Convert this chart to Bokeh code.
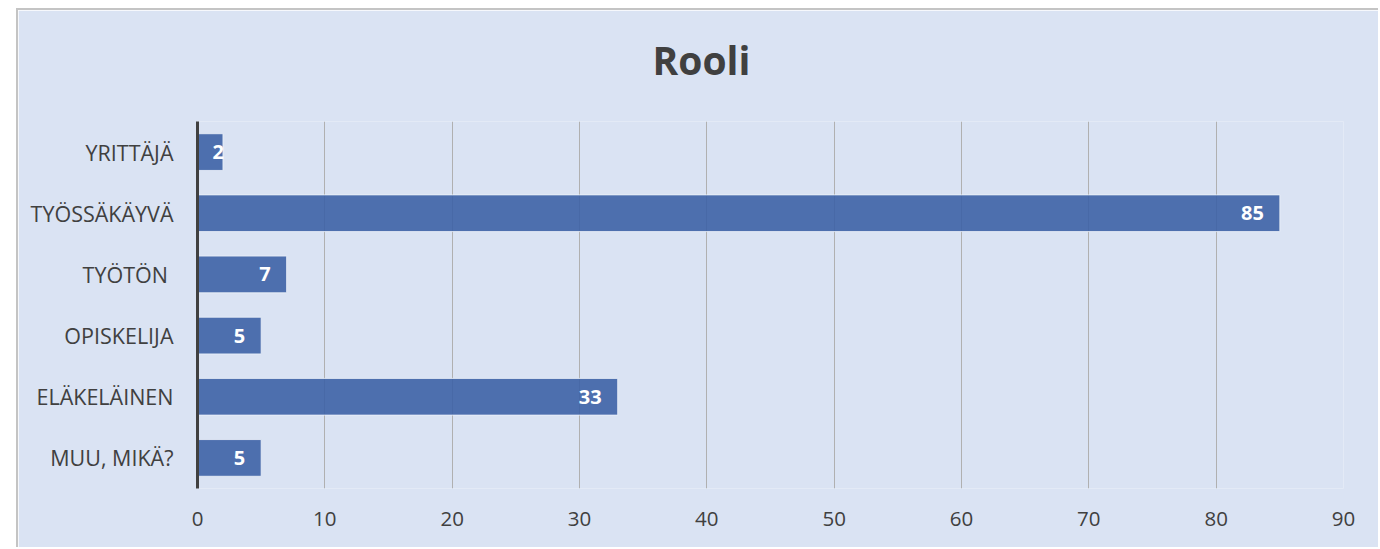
from bokeh.plotting import figure
from bokeh.models import ColumnDataSource, Range1d, FactorRange, FixedTicker, Title
from bokeh.core.properties import value
from bokeh.embed import file_html
from bokeh.resources import INLINE

# ---- data ----
categories = ["YRITTÄJÄ", "TYÖSSÄKÄYVÄ", "TYÖTÖN ", "OPISKELIJA", "ELÄKELÄINEN", "MUU, MIKÄ?"]
counts = [2, 85, 7, 5, 33, 5]
x_ticks = [0, 10, 20, 30, 40, 50, 60, 70, 80, 90]
chart_title = "Rooli"

BG = "#dae3f3"
TXT = "#404040"
FONT = "Open Sans"

src = ColumnDataSource(dict(
    cat=categories,
    count=counts,
    label=[str(c) for c in counts],
    xoff=[-16 if c >= 5 else 1 for c in counts],
))

p = figure(
    width=1362, height=539,
    y_range=FactorRange(factors=categories[::-1]),
    x_range=Range1d(0, 90),
    output_backend="svg", toolbar_location=None,
    min_border_left=179, min_border_right=37,
    min_border_top=111, min_border_bottom=61,
    background_fill_color=BG, border_fill_color=BG,
    outline_line_color=None,
    margin=(8, 0, 0, 16),
    styles={"border-top": "2px solid #c4c4c4", "border-left": "2px solid #c4c4c4"},
    title=None,
)

# spacer panel between frame and title, then the title itself (outermost)
spacer = Title(text=" ", text_font=FONT, text_font_size="20px", standoff=2)
p.add_layout(spacer, "above")
title = Title(text=chart_title, align="left", offset=455, text_font=FONT,
              text_font_style="bold", text_font_size="39px", text_color=TXT)
p.add_layout(title, "above")

p.hbar(y="cat", left=0, right="count", height=0.6, source=src,
       fill_color="#3d62a6", fill_alpha=0.9,
       line_color="#eef2fa", line_alpha=0.8, line_width=1)

p.text(x="count", y="cat", text="label", x_offset="xoff", source=src,
       text_align="right", text_baseline="middle",
       text_font=value(FONT), text_font_style="bold", text_font_size="20px",
       text_color="white")

# axes
p.xaxis.ticker = FixedTicker(ticks=x_ticks)
p.xaxis.axis_line_color = None
p.xaxis.major_tick_line_color = None
p.xaxis.minor_tick_line_color = None
p.xaxis.major_label_text_font = FONT
p.xaxis.major_label_text_font_size = "20.5px"
p.xaxis.major_label_text_color = TXT
p.xaxis.major_label_standoff = 17

p.yaxis.axis_line_color = TXT
p.yaxis.axis_line_width = 3
p.yaxis.major_tick_line_color = None
p.yaxis.minor_tick_line_color = None
p.yaxis.major_label_text_font = FONT
p.yaxis.major_label_text_font_size = "21.5px"
p.yaxis.major_label_text_color = TXT
p.yaxis.major_label_standoff = 18

p.xgrid.ticker = FixedTicker(ticks=x_ticks)
p.xgrid.grid_line_color = "#b0b0b0"
p.xgrid.grid_line_width = 1
p.ygrid.grid_line_color = None

open("out.html", "w").write(file_html(p, INLINE))
